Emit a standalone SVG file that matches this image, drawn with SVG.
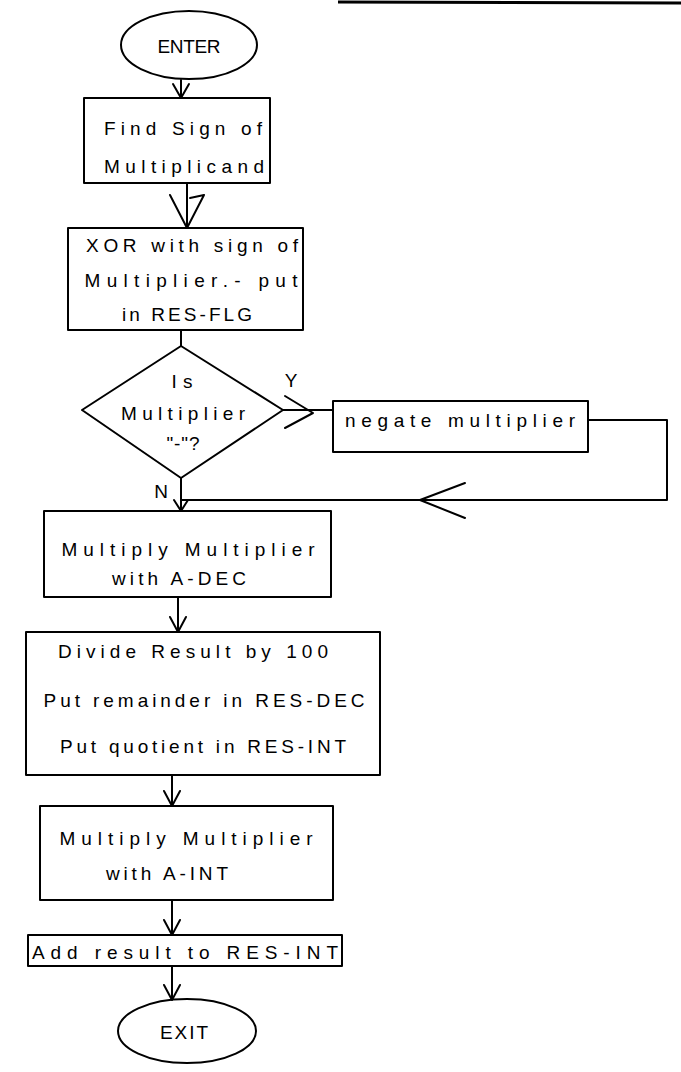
<svg xmlns="http://www.w3.org/2000/svg" width="681" height="1072" viewBox="0 0 681 1072">
<style>
.s{fill:none;stroke:#000;stroke-width:2;stroke-linejoin:round;stroke-linecap:round}
.t{font-family:"Liberation Sans",Arial,sans-serif;font-size:19px;fill:#000;text-anchor:middle}
</style>
<rect x="0" y="0" width="681" height="1072" fill="#fff"/>
<line x1="338" y1="2" x2="681" y2="3" stroke="#000" stroke-width="3"/>
<g id="connectors" class="s">
<path d="M181,80 V98 M173,84 L181,98 L189,84"/>
<path d="M187,183 V228 M170,195 L187,228 L204,195 L190,198"/>
<path d="M181,330 V346"/>
<path d="M283,410 H333 M285,396 L313,413 L285,428"/>
<path d="M588,420 H667 V500 H181 M465,483 L420,500 L465,518"/>
<path d="M181,478 V511 M174,500 L181,511 L188,500"/>
<path d="M178,597 V632 M170,617 L178,632 L186,617"/>
<path d="M172,775 V806 M164,791 L172,806 L180,791"/>
<path d="M172,900 V935 M164,920 L172,935 L180,920"/>
<path d="M172,966 V1000 M164,985 L172,1000 L180,985"/>
</g>
<g id="enter"><ellipse class="s" cx="189" cy="45" rx="68" ry="34"/><text class="t" x="189" y="53" textLength="63">ENTER</text></g>
<g id="find-sign"><rect class="s" x="84" y="98" width="186" height="85"/>
<text class="t" x="183" y="135" textLength="158">Find Sign of</text>
<text class="t" x="184" y="173" textLength="160">Multiplicand</text></g>
<g id="xor"><rect class="s" x="68" y="228" width="235" height="102"/>
<text class="t" x="192" y="252" textLength="212">XOR with sign of</text>
<text class="t" x="191" y="287" textLength="213">Multiplier.- put</text>
<text class="t" x="187" y="321" textLength="130">in RES-FLG</text></g>
<g id="decision"><path class="s" d="M181,346 L283,410 L181,478 L82,410 Z"/>
<text class="t" x="182" y="388" textLength="21">Is</text>
<text class="t" x="183" y="420" textLength="124">Multiplier</text>
<text class="t" x="183" y="450" textLength="33">"-"?</text>
<text class="t" x="291" y="387">Y</text>
<text class="t" x="161" y="498">N</text></g>
<g id="negate"><rect class="s" x="333" y="401" width="255" height="51"/>
<text class="t" x="460" y="427" textLength="230">negate multiplier</text></g>
<g id="mult-dec"><rect class="s" x="44" y="511" width="287" height="86"/>
<text class="t" x="188" y="556" textLength="253">Multiply Multiplier</text>
<text class="t" x="179" y="585" textLength="134">with A-DEC</text></g>
<g id="divide"><rect class="s" x="26" y="632" width="354" height="143"/>
<text class="t" x="193" y="658" textLength="270">Divide Result by 100</text>
<text class="t" x="204" y="707" textLength="321">Put remainder in RES-DEC</text>
<text class="t" x="203" y="753" textLength="286">Put quotient in RES-INT</text></g>
<g id="mult-int"><rect class="s" x="40" y="806" width="293" height="94"/>
<text class="t" x="186" y="845" textLength="253">Multiply Multiplier</text>
<text class="t" x="167" y="880" textLength="122">with A-INT</text></g>
<g id="add"><rect class="s" x="28" y="935" width="314" height="31"/>
<text class="t" x="185" y="959" textLength="306">Add result to RES-INT</text></g>
<g id="exit"><ellipse class="s" cx="187" cy="1031" rx="69" ry="32"/><text class="t" x="184" y="1039" textLength="48">EXIT</text></g>
</svg>
